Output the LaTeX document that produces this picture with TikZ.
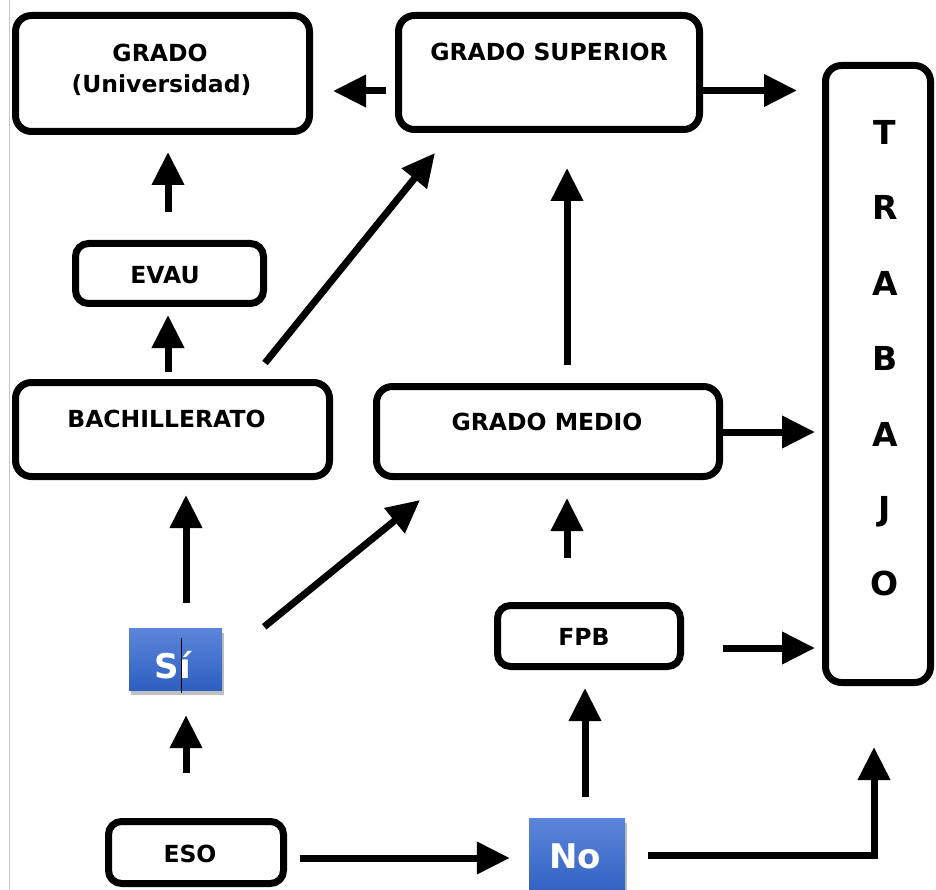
\documentclass[tikz,border=0pt]{standalone}
\usepackage{fontspec}
\setmainfont{DejaVu Sans}
\usetikzlibrary{arrows.meta,calc,shadows}
\definecolor{bluetop}{RGB}{92,134,218}
\definecolor{bluebot}{RGB}{46,94,192}
\begin{document}
\begin{tikzpicture}[x=1pt,y=-1pt,
  box/.style={draw, line width=7pt, rounded corners=16pt, inner sep=0pt, fill=white},
  smallbox/.style={box, rounded corners=13pt},
  lbl/.style={inner sep=0pt, anchor=base, font=\fontsize{23.5}{27}\selectfont\bfseries},
  big/.style={inner sep=0pt, anchor=base, font=\fontsize{33}{38}\selectfont\bfseries},
  choice/.style={inner sep=0pt, top color=bluetop, bottom color=bluebot,
    drop shadow={opacity=0.5,shadow xshift=1.5pt,shadow yshift=-5pt}},
  choicetxt/.style={inner sep=0pt, anchor=base, text=white, font=\fontsize{34}{40}\selectfont\bfseries},
  arr/.style={line width=7pt, -{Triangle[length=33pt,width=31pt]}}]
\useasboundingbox (0,0) rectangle (936,890);
\fill[white] (0,0) rectangle (936,890);
\draw[gray!45, line width=1pt] (9,0) -- (9,890);

% boxes
\node[box, minimum width=294pt, minimum height=116pt] (grado) at (162.5,73.5) {};
\node[box, minimum width=301pt, minimum height=114pt] (gs) at (549,72.5) {};
\node[box, minimum width=105pt, minimum height=617pt] (trab) at (878,374) {};
\node[smallbox, minimum width=188pt, minimum height=60pt] (evau) at (169.5,273.5) {};
\node[box, minimum width=314pt, minimum height=94pt] (bach) at (172.5,429.5) {};
\node[box, minimum width=343pt, minimum height=90pt] (gm) at (548,431.5) {};
\node[smallbox, minimum width=183pt, minimum height=61pt] (fpb) at (589,636) {};
\node[smallbox, minimum width=175pt, minimum height=62pt] (eso) at (196,852.5) {};
\node[choice, minimum width=93pt, minimum height=62pt] (si) at (175.5,659) {};
\node[choice, minimum width=96pt, minimum height=80pt] (no) at (577,858) {};

% texts
\node[lbl] (tgrado) at (160,62) {GRADO};
\node[lbl] (tuniv) at (161.5,93) {(Universidad)};
\node[lbl] (tgs) at (549,60.5) {GRADO SUPERIOR};
\node[lbl] (tevau) at (165,284) {EVAU};
\node[lbl] (tbach) at (166.5,427) {BACHILLERATO};
\node[lbl] (tgm) at (547,430) {GRADO MEDIO};
\node[lbl] (tfpb) at (584,645) {FPB};
\node[lbl] (teso) at (190,862) {ESO};
\node[choicetxt] (tsi) at (173,678) {Sí};
\node[choicetxt] (tno) at (575,868) {No};
\foreach \l/\yy [count=\i] in {T/145,R/220,A/295,B/370,A/446.5,J/520,O/595}
  \node[big] (ttrab\i) at (885,\yy) {\l};

% text cursor in the Si box
\coordinate (curA) at ($(si.north)+(5.5,10)$);
\coordinate (curB) at ($(si.south)+(5.5,3)$);
\draw[line width=1pt] (curA) -- (curB);

% arrows
\draw[arr] ($(gs.west)+(-9,18.5)$) -- ($(grado.east)+(20,17.5)$);
\draw[arr] ($(gs.east)+(0,18)$) -- ($(trab.north west)+(-25,28.5)$);
\draw[arr] ($(evau.north)+(-1.5,-28)$) -- ($(grado.south)+(5.5,17)$);
\draw[arr] ($(bach.north)+(-4.5,-7)$) -- ($(evau.south)+(-1.5,8)$);
\draw[arr] ($(bach.north east)+(-68,-16)$) -- ($(gs.south west)+(40,20)$);
\draw[arr] ($(gm.north)+(19,-18)$) -- ($(gs.south)+(18,35)$);
\draw[arr] ($(gm.east)+(0,0.5)$) -- ($(trab.west)+(-7,58)$);
\draw[arr] ($(si.north)+(10.5,-25)$) -- ($(bach.south)+(13.5,15)$);
\draw[arr] ($(si.north east)+(42,-1)$) -- ($(gm.south west)+(47,20)$);
\draw[arr] ($(eso.north)+(-10,-45)$) -- ($(si.south)+(10.5,25)$);
\draw[arr] ($(fpb.north)+(-22,-44)$) -- ($(gm.south)+(19,18)$);
\draw[arr] ($(fpb.east)+(39,12)$) -- ($(trab.west)+(-7,274)$);
\draw[arr] ($(eso.east)+(13,5.5)$) -- ($(no.west)+(-19,0)$);
\draw[arr] ($(no.north)+(8,-21)$) -- ($(fpb.south)+(-4,18)$);
\draw[arr] ($(no.east)+(23,-3)$) -| ($(trab.south)+(-4,61)$);
\end{tikzpicture}
\end{document}
